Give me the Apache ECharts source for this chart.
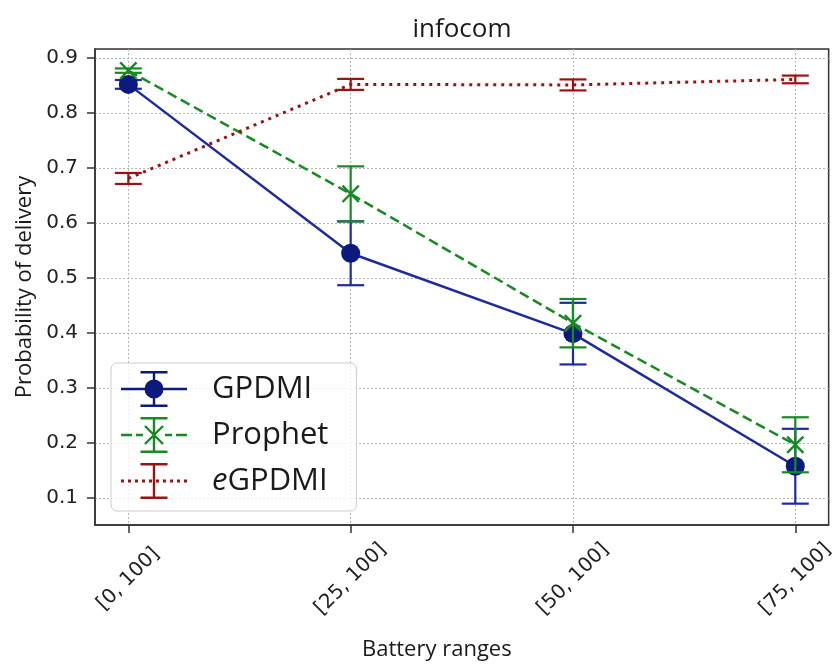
<!DOCTYPE html>
<html><head><meta charset="utf-8">
<script src="https://cdn.jsdelivr.net/npm/echarts@6/dist/echarts.min.js"></script>
<style>html,body{margin:0;padding:0;background:#fff}#c{width:837px;height:666px}</style>
</head><body><div id="c"></div>
<script>
// ---- data ----
var categories = ['[0, 100]', '[25, 100]', '[50, 100]', '[75, 100]'];
var xTicks = [0, 1, 2, 3];
var yTicks = [0.1, 0.2, 0.3, 0.4, 0.5, 0.6, 0.7, 0.8, 0.9];
var gpdmi = [0.852, 0.545, 0.399, 0.158];
var gpdmiErr = [0.008, 0.058, 0.056, 0.068];
var prophet = [0.877, 0.653, 0.418, 0.197];
var prophetErr = [0.004, 0.050, 0.044, 0.050];
var egpdmi = [0.681, 0.852, 0.851, 0.861];
var egpdmiErr = [0.010, 0.010, 0.010, 0.007];
var seriesNames = ['GPDMI', 'Prophet', 'eGPDMI'];

// ---- styles ----
var BLUE = '#1c2b9e', NAVY = '#0b1a7c', GREEN = '#178a22', RED = '#9c1212';
var SANS = 'Open Sans', TICKF = 'DejaVu Sans';

function pts(vals) { return vals.map(function (v, i) { return [xTicks[i], v]; }); }
function errPts(vals, errs) { return vals.map(function (v, i) { return [xTicks[i], v - errs[i], v + errs[i]]; }); }

function errSeries(name, vals, errs, color, z) {
  return {
    type: 'custom', name: name + '_err', z: z, silent: true,
    encode: { x: 0, y: [1, 2] },
    data: errPts(vals, errs),
    renderItem: function (params, api) {
      var x = api.value(0);
      var lo = api.coord([x, api.value(1)]);
      var hi = api.coord([x, api.value(2)]);
      var hw = 13.5;
      var st = { stroke: color, lineWidth: 2.2, fill: null };
      return { type: 'group', children: [
        { type: 'line', shape: { x1: lo[0], y1: lo[1], x2: hi[0], y2: hi[1] }, style: st },
        { type: 'line', shape: { x1: hi[0] - hw, y1: hi[1], x2: hi[0] + hw, y2: hi[1] }, style: st },
        { type: 'line', shape: { x1: lo[0] - hw, y1: lo[1], x2: lo[0] + hw, y2: lo[1] }, style: st }
      ]};
    }
  };
}

// legend icon paths (66 x 36 box)
function rect(x0, y0, x1, y1) { return 'M' + x0 + ',' + y0 + 'H' + x1 + 'V' + y1 + 'H' + x0 + 'Z'; }
var barAndCaps = rect(31.8, 1, 34.2, 35) + rect(19.5, 0, 46.5, 2.4) + rect(19.5, 33.6, 46.5, 36);
var iconGPDMI = 'path://' + rect(0, 16.8, 66, 19.2) + barAndCaps +
  'M23.5,18A9.5,9.5 0 1 1 42.5,18A9.5,9.5 0 1 1 23.5,18Z';
var iconProphet = 'path://' + rect(0, 16.8, 11, 19.2) + rect(15, 16.8, 22, 19.2) + rect(44, 16.8, 51, 19.2) + rect(55, 16.8, 66, 19.2) + barAndCaps +
  'M23.15,9.85L24.85,8.15L42.85,26.15L41.15,27.85Z' +
  'M41.15,8.15L42.85,9.85L24.85,27.85L23.15,26.15Z';
var dots = '';
for (var k = 0; k < 10; k++) { dots += rect(k * 7, 16.5, k * 7 + 3, 19.5); }
var iconEG = 'path://' + dots + barAndCaps;
var xMarker = 'path://M1.7,0L18,16.3L16.3,18L0,1.7ZM16.3,0L18,1.7L1.7,18L0,16.3Z';

var chart = echarts.init(document.getElementById('c'), null, { renderer: 'canvas' });
chart.setOption({
  animation: false,
  backgroundColor: '#ffffff',
  title: {
    text: 'infocom', left: 457, top: 12, textAlign: 'center',
    textStyle: { fontFamily: SANS, fontSize: 26, fontWeight: 'normal', color: '#1a1a1a' }
  },
  grid: { left: 95, right: 7, top: 49, bottom: 138, show: true, borderColor: '#333', borderWidth: 1.5 },
  xAxis: {
    type: 'value', min: -0.15, max: 3.15,
    name: 'Battery ranges', nameLocation: 'middle', nameGap: 114,
    nameTextStyle: { fontFamily: SANS, fontSize: 22, color: '#1a1a1a', padding: [0, 50, 0, 0] },
    axisLine: { show: true, onZero: false, lineStyle: { color: '#333', width: 1.5 } },
    axisTick: { show: true, length: 8, customValues: xTicks, lineStyle: { color: '#333', width: 1.5 } },
    axisLabel: {
      customValues: xTicks, rotate: 45, align: 'center', verticalAlign: 'middle', margin: 54,
      fontFamily: TICKF, fontSize: 20, color: '#222',
      formatter: function (v) { return categories[Math.round(v)]; }
    },
    splitLine: { show: true, lineStyle: { color: '#b5b5b5', width: 1, type: [2, 2] } }
  },
  yAxis: {
    type: 'value', min: 0.0512, max: 0.9163,
    name: 'Probability of delivery', nameLocation: 'middle', nameGap: 59,
    nameTextStyle: { fontFamily: SANS, fontSize: 22, color: '#1a1a1a' },
    axisLine: { show: true, onZero: false, lineStyle: { color: '#333', width: 1.5 } },
    axisTick: { show: true, length: 8, customValues: yTicks, lineStyle: { color: '#333', width: 1.5 } },
    axisLabel: {
      customValues: yTicks, margin: 17, fontFamily: TICKF, fontSize: 20, color: '#222',
      formatter: function (v) { return v.toFixed(1); }
    },
    splitLine: { show: true, lineStyle: { color: '#b5b5b5', width: 1, type: [2, 2] } }
  },
  legend: {
    left: 111, top: 363, orient: 'vertical', itemWidth: 66, itemHeight: 36, itemGap: 10,
    padding: [8, 28, 12, 10],
    backgroundColor: 'rgba(255,255,255,0.8)', borderColor: '#cccccc', borderWidth: 1, borderRadius: 6,
    textStyle: { fontFamily: SANS, fontSize: 31, color: '#1a1a1a', padding: [0, 0, 0, 20],
      rich: { i: { fontFamily: SANS, fontSize: 31, fontStyle: 'italic', color: '#1a1a1a' },
              n: { fontFamily: SANS, fontSize: 31, color: '#1a1a1a' } } },
    formatter: function (name) { return name === 'eGPDMI' ? '{i|e}{n|GPDMI}' : name; },
    data: [
      { name: seriesNames[0], icon: iconGPDMI, itemStyle: { color: NAVY, borderWidth: 0 } },
      { name: seriesNames[1], icon: iconProphet, itemStyle: { color: GREEN, borderWidth: 0 } },
      { name: seriesNames[2], icon: iconEG, itemStyle: { color: RED, borderWidth: 0 } }
    ],
    z: 10
  },
  series: [
    errSeries(seriesNames[0], gpdmi, gpdmiErr, BLUE, 2),
    { type: 'line', name: seriesNames[0], z: 3, data: pts(gpdmi), symbol: 'circle', symbolSize: 19,
      lineStyle: { color: BLUE, width: 2.5 }, itemStyle: { color: NAVY, borderWidth: 0 } },
    errSeries(seriesNames[1], prophet, prophetErr, GREEN, 4),
    { type: 'line', name: seriesNames[1], z: 5, data: pts(prophet), symbol: xMarker, symbolSize: 18,
      lineStyle: { color: GREEN, width: 2.5, type: [10, 5] }, itemStyle: { color: GREEN, borderWidth: 0 } },
    errSeries(seriesNames[2], egpdmi, egpdmiErr, RED, 6),
    { type: 'line', name: seriesNames[2], z: 7, data: pts(egpdmi), symbol: 'none',
      lineStyle: { color: RED, width: 3, type: [3, 5] }, itemStyle: { color: RED, borderWidth: 0 } }
  ]
});
</script></body></html>
